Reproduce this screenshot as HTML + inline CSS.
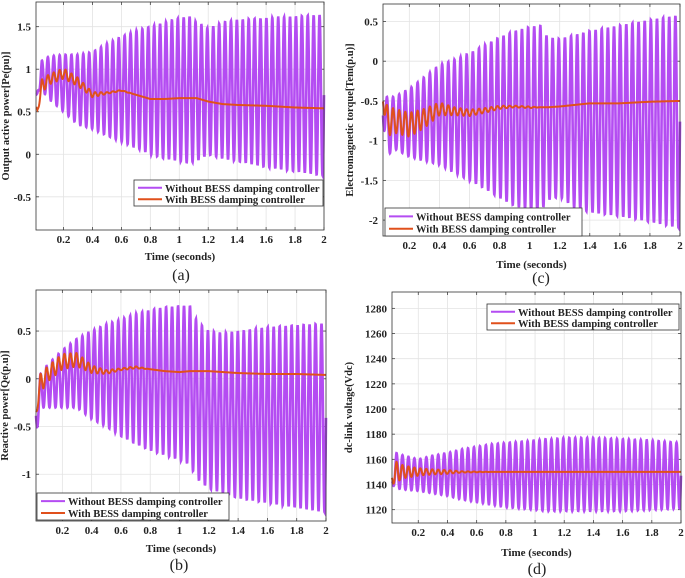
<!DOCTYPE html>
<html><head><meta charset="utf-8">
<style>
html,body{margin:0;padding:0;background:#fff;}
svg{display:block;font-family:"Liberation Serif",serif;font-weight:bold;}
</style></head>
<body>
<svg id="fig" width="685" height="578" viewBox="0 0 685 578" xmlns="http://www.w3.org/2000/svg"></svg>
<script>
// shared time grid (seconds)
const timesA = [0.02,0.05,0.1,0.2,0.3,0.4,0.5,0.6,0.7,0.8,0.9,1.0,1.07,1.12,1.2,1.3,1.4,1.6,1.8,2.0];
const xTicks = [0.2,0.4,0.6,0.8,1,1.2,1.4,1.6,1.8,2];
const xTickLabels = ["0.2","0.4","0.6","0.8","1","1.2","1.4","1.6","1.8","2"];

// (a) Output active power
const aUpper = [0.7,1.1,1.15,1.17,1.17,1.2,1.3,1.38,1.45,1.5,1.55,1.6,1.62,1.55,1.48,1.55,1.58,1.6,1.62,1.64];
const aLower = [0.75,0.75,0.65,0.5,0.35,0.3,0.22,0.15,0.08,0.0,-0.05,-0.08,-0.1,-0.08,0.0,-0.05,-0.08,-0.15,-0.2,-0.25];
const aMean  = [0.52,0.8,0.88,0.95,0.85,0.7,0.72,0.75,0.7,0.65,0.65,0.66,0.66,0.66,0.62,0.59,0.58,0.57,0.55,0.54];
const aRipple= [0.03,0.08,0.06,0.06,0.05,0.03,0.01,0.005,0,0,0,0,0,0,0,0,0,0,0,0];
const aYTicks = [-0.5,0,0.5,1,1.5];
const aYTickLabels = ["-0.5","0","0.5","1","1.5"];

// (c) Electromagnetic torque
const cUpper = [-0.4,-0.45,-0.45,-0.35,-0.2,-0.05,0.02,0.1,0.2,0.3,0.38,0.43,0.45,0.3,0.28,0.33,0.38,0.45,0.52,0.58];
const cLower = [-0.65,-1.2,-1.1,-1.2,-1.25,-1.3,-1.4,-1.5,-1.6,-1.72,-1.82,-1.88,-1.9,-1.75,-1.7,-1.85,-1.9,-1.95,-2.02,-2.1];
const cMean  = [-0.4,-0.75,-0.75,-0.8,-0.72,-0.6,-0.63,-0.65,-0.62,-0.58,-0.57,-0.58,-0.58,-0.58,-0.57,-0.55,-0.53,-0.53,-0.51,-0.5];
const cRipple= [0.05,0.2,0.15,0.15,0.12,0.08,0.05,0.04,0.03,0.02,0.01,0.01,0,0,0,0,0,0,0,0];
const cYTicks = [-2,-1.5,-1,-0.5,0,0.5];
const cYTickLabels = ["-2","-1.5","-1","-0.5","0","0.5"];

// (b) Reactive power
const bUpper = [-0.2,0.05,0.15,0.3,0.42,0.5,0.57,0.62,0.68,0.72,0.75,0.76,0.77,0.6,0.5,0.48,0.5,0.54,0.56,0.58];
const bLower = [-0.6,-0.3,-0.3,-0.3,-0.3,-0.42,-0.5,-0.6,-0.68,-0.75,-0.8,-0.85,-0.9,-1.05,-1.15,-1.2,-1.25,-1.3,-1.35,-1.4];
const bMean  = [-0.35,-0.05,0.05,0.18,0.2,0.1,0.07,0.1,0.12,0.1,0.08,0.07,0.08,0.08,0.08,0.07,0.06,0.05,0.05,0.04];
const bRipple= [0.05,0.1,0.08,0.08,0.07,0.04,0.02,0.01,0.01,0,0,0,0,0,0,0,0,0,0,0];
const bYTicks = [-1,-0.5,0,0.5];
const bYTickLabels = ["-1","-0.5","0","0.5"];

// (d) dc-link voltage
const dUpper = [1145,1165,1163,1160,1163,1165,1168,1170,1172,1173,1174,1175,1176,1176,1177,1177,1177,1176,1175,1173];
const dLower = [1140,1137,1136,1135,1133,1131,1128,1126,1124,1122,1121,1120,1119,1119,1119,1119,1119,1119,1120,1121];
const dMean  = [1145,1150,1150,1150,1150,1150,1150,1150,1150,1150,1150,1150,1150,1150,1150,1150,1150,1150,1150,1150];
const dRipple= [5,8,5,3,2,1.5,0.5,0.3,0,0,0,0,0,0,0,0,0,0,0,0];
const dYTicks = [1120,1140,1160,1180,1200,1220,1240,1260,1280];
const dYTickLabels = ["1120","1140","1160","1180","1200","1220","1240","1260","1280"];

const NS="http://www.w3.org/2000/svg";
const svg=document.getElementById('fig');
function mk(tag,attrs,parent){const e=document.createElementNS(NS,tag);for(const k in attrs)e.setAttribute(k,attrs[k]);(parent||svg).appendChild(e);return e;}
function interp(ts,vs,t){if(t<=ts[0])return vs[0];for(let i=1;i<ts.length;i++){if(t<=ts[i]){const f=(t-ts[i-1])/(ts[i]-ts[i-1]);return vs[i-1]+f*(vs[i]-vs[i-1]);}}return vs[vs.length-1];}

function panel(p){
  const g=mk('g',{});
  
  
  const X=t=>p.L+(t-p.x0)/(p.x1-p.x0)*(p.R-p.L);
  const Y=v=>p.B-(v-p.y0)/(p.y1-p.y0)*(p.B-p.T);
  mk('rect',{x:p.L,y:p.T,width:p.R-p.L,height:p.B-p.T,fill:'#fff'},g);
  xTicks.forEach((t,i)=>{
    const l=mk('line',{x1:X(t),x2:X(t),y1:p.T,y2:p.B,stroke:'#e3e3e3','stroke-width':0.8},g);
    
    
    mk('line',{x1:X(t),x2:X(t),y1:p.B,y2:p.B-3,stroke:'#444','stroke-width':0.8},g);
    mk('line',{x1:X(t),x2:X(t),y1:p.T,y2:p.T+3,stroke:'#444','stroke-width':0.8},g);
    const tx=mk('text',{x:X(t),y:p.B+13,'font-size':11,'text-anchor':'middle',fill:'#222'},g);
    tx.textContent=xTickLabels[i];
    
    
  });
  p.yt.forEach((v,i)=>{
    const l=mk('line',{x1:p.L,x2:p.R,y1:Y(v),y2:Y(v),stroke:'#e3e3e3','stroke-width':0.8},g);
    
    
    mk('line',{x1:p.L,x2:p.L+3,y1:Y(v),y2:Y(v),stroke:'#444','stroke-width':0.8},g);
    mk('line',{x1:p.R,x2:p.R-3,y1:Y(v),y2:Y(v),stroke:'#444','stroke-width':0.8},g);
    const tx=mk('text',{x:p.L-5,y:Y(v)+4,'font-size':11,'text-anchor':'end',fill:'#222'},g);
    tx.textContent=p.ytl[i];
    
    
  });
  const f=24.5, N=2400; let pts=[];
  for(let i=0;i<=N;i++){
    const t=p.x0+(p.x1-p.x0)*i/N;
    const u=interp(timesA,p.up,t), lo=interp(timesA,p.lo,t);
    const m=(u+lo)/2, a=(u-lo)/2;
    const v=m+a*Math.sin(2*Math.PI*f*t);
    pts.push(X(t).toFixed(2)+','+Y(v).toFixed(2));
  }
  const pl=mk('polyline',{points:pts.join(' '),fill:'none',stroke:'#b44cf2','stroke-width':2.6},g);
  
  
  pts=[];
  for(let i=0;i<=N;i++){
    const t=p.x0+(p.x1-p.x0)*i/N;
    const m=interp(timesA,p.mean,t), r=interp(timesA,p.rip,t);
    const v=m+r*Math.sin(2*Math.PI*f*t);
    pts.push(X(t).toFixed(2)+','+Y(v).toFixed(2));
  }
  const ol=mk('polyline',{points:pts.join(' '),fill:'none',stroke:'#e0501c','stroke-width':2},g);
  
  
  mk('rect',{x:p.L,y:p.T,width:p.R-p.L,height:p.B-p.T,fill:'none',stroke:'#333','stroke-width':0.8},g);
  const lg=mk('g',{},g);
  
  
  const [lx,ly,lw,lh]=p.leg;
  mk('rect',{x:lx,y:ly,width:lw,height:lh,fill:'#fff',stroke:'#333','stroke-width':0.8},lg);
  mk('line',{x1:lx+4,x2:lx+28,y1:ly+lh*0.3,y2:ly+lh*0.3,stroke:'#b44cf2','stroke-width':2},lg);
  mk('line',{x1:lx+4,x2:lx+28,y1:ly+lh*0.74,y2:ly+lh*0.74,stroke:'#e0501c','stroke-width':2},lg);
  const t1=mk('text',{x:lx+31,y:ly+lh*0.3+4,'font-size':10.5,fill:'#222'},lg);
  t1.textContent='Without BESS damping controller';
  
  
  const t2=mk('text',{x:lx+31,y:ly+lh*0.74+4,'font-size':10.5,fill:'#222'},lg);
  t2.textContent='With BESS damping controller';
  
  
  const xl=mk('text',{x:(p.L+p.R)/2,y:p.xly,'font-size':11,'text-anchor':'middle',fill:'#222'},g);
  xl.textContent='Time (seconds)';
  
  
  const yl=mk('text',{x:0,y:0,'font-size':10.5,'text-anchor':'middle',fill:'#222',transform:`translate(${p.ylx},${(p.T+p.B)/2}) rotate(-90)`},g);
  yl.textContent=p.ylab;
  
  
  const cap=mk('text',{x:p.cap[0],y:p.cap[1],'font-size':16,'font-weight':'normal',fill:'#222','text-anchor':'middle'},g);
  cap.textContent=p.capt;
  
  
}

panel({name:'panel-a-active-power',L:36,R:324,T:2,B:230,x0:0.01,x1:2.0,y0:-0.89,y1:1.79,yt:aYTicks,ytl:aYTickLabels,
  up:aUpper,lo:aLower,mean:aMean,rip:aRipple,leg:[134,180,189,26],xly:260,ylx:9,ylab:'Output active power[Pe(pu)]',cap:[181,280],capt:'(a)'});
panel({name:'panel-c-torque',L:383,R:680,T:4,B:236,x0:0.025,x1:2.0,y0:-2.2,y1:0.72,yt:cYTicks,ytl:cYTickLabels,
  up:cUpper,lo:cLower,mean:cMean,rip:cRipple,leg:[385,208,197,28],xly:268,ylx:353,ylab:'Electromagnetic torque[Tem(p.u)]',cap:[541,283],capt:'(c)'});
panel({name:'panel-b-reactive-power',L:36,R:326,T:290,B:521,x0:0.02,x1:2.0,y0:-1.49,y1:0.93,yt:bYTicks,ytl:bYTickLabels,
  up:bUpper,lo:bLower,mean:bMean,rip:bRipple,leg:[37,493,192,27],xly:552,ylx:8,ylab:'Reactive power[Qe(p.u)]',cap:[179,570],capt:'(b)'});
panel({name:'panel-d-dc-voltage',L:392,R:681,T:292,B:523,x0:0.02,x1:2.0,y0:1109.4,y1:1293,yt:dYTicks,ytl:dYTickLabels,
  up:dUpper,lo:dLower,mean:dMean,rip:dRipple,leg:[487,304,192,26],xly:556,ylx:352,ylab:'dc-link voltage(Vdc)',cap:[537,574],capt:'(d)'});
</script>
</body></html>
